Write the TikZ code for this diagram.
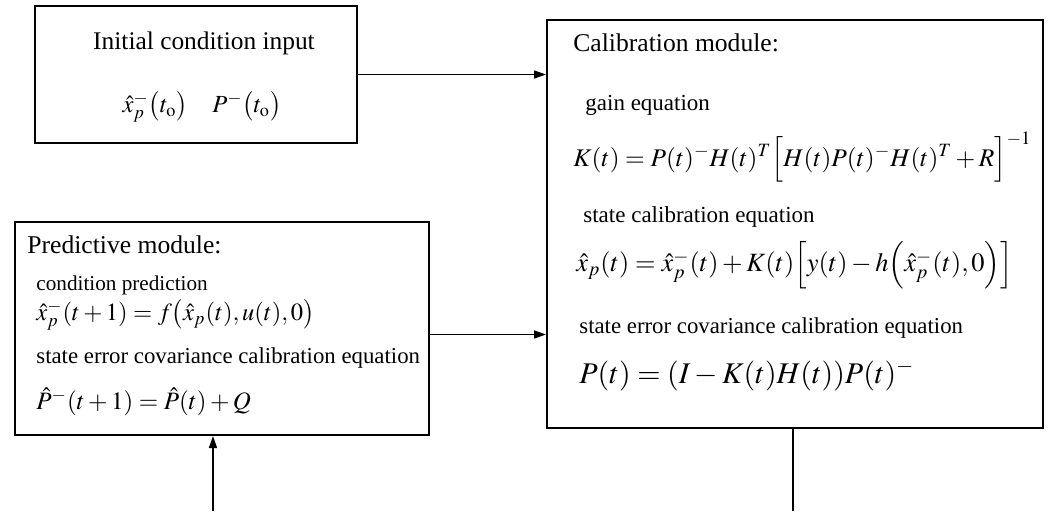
\documentclass[tikz,border=0pt]{standalone}
\usepackage{mathptmx}
\usepackage{fontspec}
\setmainfont{Liberation Serif}
\usetikzlibrary{arrows.meta}
\tikzset{
  box/.style={draw, line width=1pt, inner sep=0pt},
  lbl/.style={anchor=west, inner sep=0pt, font=\fontsize{11.4}{13}\selectfont},
  eqn/.style={anchor=west, inner sep=0pt},
  conn/.style={line width=0.75pt},
  arr/.style={conn, -{Triangle[length=6pt,width=4pt]}}
}
\begin{document}
\begin{tikzpicture}[x=0.5pt,y=-0.5pt]
\useasboundingbox (0,0) rectangle (1051,511);
% boxes
\node[box, minimum width=161pt, minimum height=68.5pt] (init) at (196,74.5) {};
\node[box, minimum width=248pt, minimum height=204pt] (calib) at (795,224) {};
\node[box, minimum width=207pt, minimum height=106.5pt] (pred) at (222,328.5) {};
% init texts
\node[anchor=center, inner sep=0pt, font=\fontsize{12.7}{14}\selectfont] (t1) at (204,43) {Initial condition input};
\node[anchor=center, inner sep=0pt, font=\fontsize{12.3}{14}\selectfont] (t2) at (202,107) {$\hat{x}_p^{-}\bigl(t_{\mathrm{o}}\bigr)\quad P^{-}\bigl(t_{\mathrm{o}}\bigr)$};
% predictive texts
\node[lbl, font=\fontsize{12.8}{15}\selectfont] (p0) at (27,245) {Predictive module:};
\node[lbl, font=\fontsize{10.6}{12}\selectfont] (p1) at (36,285) {condition prediction};
\node[eqn, font=\fontsize{12.3}{14}\selectfont] (p2) at (36,315) {$\hat{x}_p^-(t+1) = f\bigl(\hat{x}_p(t), u(t), 0\bigr)$};
\node[lbl] (p3) at (36,358) {state error covariance calibration equation};
\node[eqn, font=\fontsize{12.5}{14}\selectfont] (p4) at (36,402) {$\hat{P}^-(t+1) = \hat{P}(t) + Q$};
% calibration texts
\node[lbl, font=\fontsize{12.8}{15}\selectfont] (c0) at (573,43) {Calibration module:};
\node[lbl, font=\fontsize{11.5}{13}\selectfont] (c1) at (585,105) {gain equation};
\node[eqn, font=\fontsize{12.7}{14}\selectfont] (c2) at (573,157) {$K(t) = P(t)^- H(t)^T \Bigl[ H(t)P(t)^- H(t)^T + R \Bigr]^{-1}$};
\node[lbl, font=\fontsize{11.5}{13}\selectfont] (c3) at (583,217) {state calibration equation};
\node[eqn, font=\fontsize{13.2}{15}\selectfont] (c4) at (576,265) {$\hat{x}_p(t) = \hat{x}_p^-(t) + K(t)\Bigl[ y(t) - h\Bigl(\hat{x}_p^-(t),0\Bigr)\Bigr]$};
\node[lbl] (c5) at (579,328) {state error covariance calibration equation};
\node[eqn, font=\fontsize{15}{17}\selectfont] (c6) at (579,375) {$P(t) = (I - K(t)H(t))P(t)^-$};
% connectors
\coordinate (pe) at ([yshift=-3pt]pred.east);
\coordinate (b1) at (213,511);
\coordinate (b2) at (793,511);
\draw[arr] (init.east) -- (init.east -| calib.west);
\draw[arr] (pe) -- (pe -| calib.west);
\draw[arr] (b1) -- (b1 |- pred.south);
\draw[conn] (b2 |- calib.south) -- (b2);
\end{tikzpicture}
\end{document}
